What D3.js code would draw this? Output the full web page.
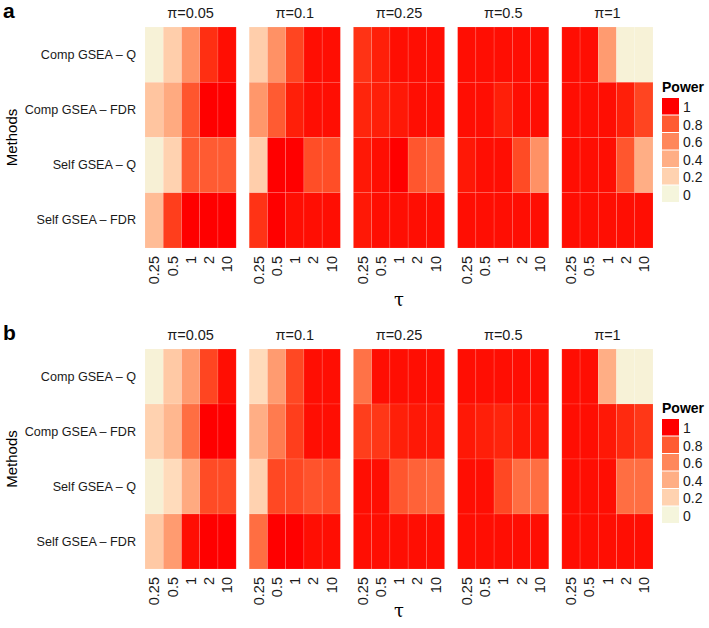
<!DOCTYPE html>
<html><head><meta charset="utf-8">
<script src="https://cdn.jsdelivr.net/npm/d3@7"></script>
<style>body{margin:0;background:#fff}svg{display:block;font-family:"Liberation Sans",Arial,sans-serif}</style>
</head><body><svg id="c" width="709" height="628"></svg>
<script>
const pis = ["π=0.05","π=0.1","π=0.25","π=0.5","π=1"];
const taus = ["0.25","0.5","1","2","10"];
const methods = ["Comp GSEA – Q","Comp GSEA – FDR","Self GSEA – Q","Self GSEA – FDR"];
const legendBreaks = [1,0.8,0.6,0.4,0.2,0];
// Panel a: power[pi][method][tau]
const powerA = [
  [[0.02,0.22,0.55,0.94,0.99],[0.27,0.42,0.82,1.0,1.0],[0.03,0.2,0.8,0.8,0.8],[0.32,0.9,1.0,1.0,1.0]],
  [[0.22,0.55,0.88,0.99,0.99],[0.52,0.8,0.97,0.99,0.99],[0.22,1.0,1.0,0.85,0.85],[0.93,1.0,0.99,0.99,0.99]],
  [[0.93,0.97,0.99,0.99,0.99],[0.96,0.97,0.98,0.99,0.99],[0.98,0.99,1.0,0.82,0.77],[0.98,0.99,0.99,0.99,0.99]],
  [[0.99,0.99,0.99,0.99,0.99],[0.99,0.99,0.97,0.99,0.99],[0.98,0.99,0.99,0.86,0.55],[0.99,0.99,0.99,0.99,0.99]],
  [[0.99,0.99,0.5,0.02,0.02],[0.99,0.99,0.99,0.97,0.88],[0.99,0.99,0.99,0.82,0.4],[0.99,0.99,0.99,0.99,0.99]]
];
// Panel b
const powerB = [
  [[0.02,0.25,0.5,0.88,0.99],[0.2,0.35,0.72,1.0,1.0],[0.03,0.15,0.42,0.86,0.86],[0.25,0.5,0.99,1.0,1.0]],
  [[0.15,0.5,0.87,0.99,0.99],[0.4,0.66,0.9,0.99,0.99],[0.2,0.87,0.87,0.83,0.85],[0.72,1.0,1.0,0.99,0.99]],
  [[0.7,0.99,0.99,0.99,0.99],[0.9,0.92,0.97,0.98,0.98],[0.99,0.99,0.82,0.77,0.75],[0.99,0.99,0.99,0.99,0.99]],
  [[0.99,0.99,0.99,0.99,0.99],[0.98,0.97,0.96,0.98,0.98],[0.99,0.99,0.87,0.72,0.72],[0.99,0.99,0.99,0.99,0.99]],
  [[0.99,0.99,0.4,0.02,0.02],[0.99,0.99,0.98,0.95,0.92],[0.99,0.99,0.99,0.72,0.72],[0.99,0.99,0.99,0.99,0.99]]
];

const svg = d3.select("#c");
const color = d3.scaleLinear().domain([0,1]).range(["#F5F5DC","#FF0000"]).interpolate(d3.interpolateLab);
const fx = d3.scaleBand().domain(pis).range([145,653]).paddingInner(0.125);

function panel(letter, data, top, bottom, legendTop, tauY){
  const g = svg.append("g");
  const y = d3.scaleBand().domain(methods).range([top,bottom]);
  const x = d3.scaleBand().domain(taus).range([0,fx.bandwidth()]);
  g.append("text").attr("x",3).attr("y",top-9).attr("font-size",21).attr("font-weight","bold").text(letter);
  pis.forEach((p,pi)=>{
    const fg = g.append("g").attr("transform",`translate(${fx(p)},0)`);
    fg.append("text").attr("x",fx.bandwidth()/2).attr("y",top-9).attr("text-anchor","middle").attr("font-size",14.5).attr("fill","#1a1a1a").text(p);
    const cells = [];
    methods.forEach((m,mi)=>taus.forEach((t,ti)=>cells.push({m,t,v:data[pi][mi][ti]})));
    fg.selectAll("rect").data(cells).join("rect")
      .attr("x",d=>x(d.t)).attr("y",d=>y(d.m)).attr("width",x.bandwidth()).attr("height",y.bandwidth())
      .attr("fill",d=>color(d.v)).attr("stroke","#fff").attr("stroke-opacity",0.2).attr("stroke-width",0.6);
    const ax = fg.append("g").attr("transform",`translate(0,${bottom})`).call(d3.axisBottom(x).tickSize(0).tickPadding(0));
    ax.select(".domain").remove();
    ax.selectAll("text").attr("transform","rotate(-90)").attr("text-anchor","end").attr("dy","0.36em")
      .attr("x",-8).attr("y",0).attr("font-size",14.5).attr("fill","#1a1a1a").attr("font-family","Liberation Sans, Arial, sans-serif");
  });
  const ay = g.append("g").attr("transform",`translate(${fx(pis[0])-9},0)`).call(d3.axisLeft(y).tickSize(0).tickPadding(0));
  ay.select(".domain").remove();
  ay.selectAll("text").attr("font-size",12.6).attr("fill","#1a1a1a").attr("font-family","Liberation Sans, Arial, sans-serif");
  g.append("text").attr("transform",`translate(17,${(top+bottom)/2}) rotate(-90)`).attr("text-anchor","middle").attr("font-size",15).text("Methods");
  g.append("text").attr("x",fx(pis[2])+fx.bandwidth()/2).attr("y",tauY).attr("text-anchor","middle").attr("font-size",18).attr("font-family","DejaVu Serif, serif").text("τ");
  // legend
  const lg = g.append("g").attr("transform",`translate(662,${legendTop})`);
  lg.append("text").attr("x",0).attr("y",-6).attr("font-size",14).attr("font-weight","bold").text("Power");
  const ly = d3.scaleBand().domain(legendBreaks).range([0,105]);
  lg.selectAll("rect").data(legendBreaks).join("rect").attr("x",0).attr("y",d=>ly(d)).attr("width",17).attr("height",ly.bandwidth()-1).attr("fill",d=>color(d));
  lg.selectAll("text.l").data(legendBreaks).join("text").attr("class","l").attr("x",21).attr("y",d=>ly(d)+ly.bandwidth()/2).attr("dy","0.38em").attr("font-size",14).attr("fill","#1a1a1a").text(d=>d3.format("~g")(d));
}
panel("a", powerA, 27, 248, 98, 306);
panel("b", powerB, 349, 569, 419, 617);
</script></body></html>
